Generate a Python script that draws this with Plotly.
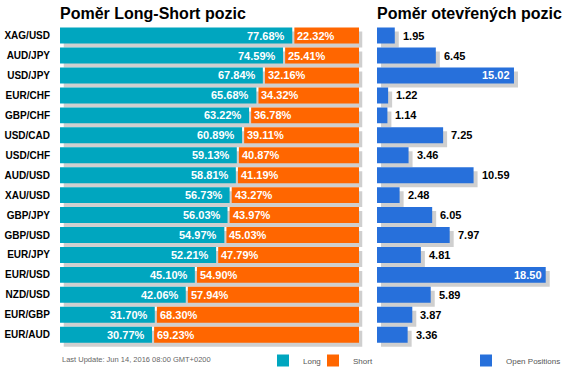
import plotly.graph_objects as go

pairs = ["XAG/USD", "AUD/JPY", "USD/JPY", "EUR/CHF", "GBP/CHF", "USD/CAD", "USD/CHF",
         "AUD/USD", "XAU/USD", "GBP/JPY", "GBP/USD", "EUR/JPY", "EUR/USD", "NZD/USD",
         "EUR/GBP", "EUR/AUD"]
long_pct = [77.68, 74.59, 67.84, 65.68, 63.22, 60.89, 59.13, 58.81, 56.73, 56.03,
            54.97, 52.21, 45.10, 42.06, 31.70, 30.77]
short_pct = [22.32, 25.41, 32.16, 34.32, 36.78, 39.11, 40.87, 41.19, 43.27, 43.97,
             45.03, 47.79, 54.90, 57.94, 68.30, 69.23]
open_pos = [1.95, 6.45, 15.02, 1.22, 1.14, 7.25, 3.46, 10.59, 2.48, 6.05, 7.97, 4.81,
            18.50, 5.89, 3.87, 3.36]

TITLE_LEFT = "Poměr Long-Short pozic"
TITLE_RIGHT = "Poměr otevřených pozic"
FOOTER = "Last Update: Jun 14, 2016 08:00 GMT+0200"

W, H = 568, 375
TEAL = "#00A6BF"
ORANGE = "#FF6600"
BLUE = "#2770DB"
SHADOW = "#CFCFCF"
FONT = "Liberation Sans, Arial, sans-serif"
GAP = 0.7  # visual gap between long and short segment (in % units)

def px_x(a, b):
    return [a / W, b / W]

def px_y(top, bottom):
    return [1 - bottom / H, 1 - top / H]

SH_X, SH_Y = 3.5, 4
row_top, row_bot = 25.7, 345.6
full = [100] * len(pairs)
short_base = [l + GAP for l in long_pct]
short_len = [s - GAP for s in short_pct]

fig = go.Figure()
# left shadow (x/y)
fig.add_trace(go.Bar(y=pairs, x=full, orientation="h", marker=dict(color=SHADOW, line_width=0),
                     xaxis="x", yaxis="y", showlegend=False, hoverinfo="skip"))
# left main (x2/y2)
fig.add_trace(go.Bar(y=pairs, x=long_pct, orientation="h", name="Long",
                     marker=dict(color=TEAL, line_width=0), xaxis="x2", yaxis="y2", legend="legend"))
fig.add_trace(go.Bar(y=pairs, x=short_len, base=short_base, orientation="h", name="Short",
                     marker=dict(color=ORANGE, line_width=0), xaxis="x2", yaxis="y2", legend="legend3"))
# right shadow (x3/y3)
fig.add_trace(go.Bar(y=pairs, x=open_pos, orientation="h", marker=dict(color=SHADOW, line_width=0),
                     xaxis="x3", yaxis="y3", showlegend=False, hoverinfo="skip"))
# right main (x4/y4)
fig.add_trace(go.Bar(y=pairs, x=open_pos, orientation="h", name="Open Positions",
                     marker=dict(color=BLUE, line_width=0), xaxis="x4", yaxis="y4", legend="legend2"))

ycat = dict(type="category", categoryorder="array", categoryarray=pairs[::-1],
            showgrid=False, zeroline=False, showline=False, ticks="")
xhid = dict(showgrid=False, zeroline=False, showline=False, showticklabels=False, ticks="", fixedrange=True)

LX0, LX1 = 60, 359
RX0 = 377
RSCALE = 9.12
RX1 = RX0 + 20 * RSCALE

LEG_Y = 1 - 361.5 / H
legfont = dict(family=FONT, size=8, color="#555")

def leg(icon_left_px):
    return dict(orientation="h", x=(icon_left_px - 14) / W, xanchor="left", y=LEG_Y, yanchor="middle",
                font=legfont, bgcolor="rgba(0,0,0,0)", itemwidth=30)

fig.update_layout(
    width=W, height=H,
    margin=dict(l=0, r=0, t=0, b=0),
    paper_bgcolor="white", plot_bgcolor="rgba(0,0,0,0)",
    barmode="overlay", bargap=0.2,
    font=dict(family=FONT, color="#000"),
    xaxis=dict(domain=px_x(LX0 + SH_X, LX1 + SH_X), range=[0, 100], anchor="y", **xhid),
    yaxis=dict(domain=px_y(row_top + SH_Y, row_bot + SH_Y), anchor="x", showticklabels=False, **ycat),
    xaxis2=dict(domain=px_x(LX0, LX1), range=[0, 100], anchor="y2", **xhid),
    yaxis2=dict(domain=px_y(row_top, row_bot), anchor="x2", showticklabels=True,
                tickfont=dict(family=FONT, size=10, color="#000", weight="bold"),
                ticklabelstandoff=9, **ycat),
    xaxis3=dict(domain=px_x(RX0 + SH_X + 0.5, RX1 + SH_X + 0.5), range=[0, 20], anchor="y3", **xhid),
    yaxis3=dict(domain=px_y(row_top + SH_Y, row_bot + SH_Y), anchor="x3", showticklabels=False, **ycat),
    xaxis4=dict(domain=px_x(RX0, RX1), range=[0, 20], anchor="y4", **xhid),
    yaxis4=dict(domain=px_y(row_top, row_bot), anchor="x4", showticklabels=False, **ycat),
    legend=leg(277),
    legend3=leg(327),
    legend2=leg(480),
    showlegend=True,
)

ann = []
vfont_w = dict(family=FONT, size=11, color="white", weight="bold")
vfont_b = dict(family=FONT, size=11, color="black", weight="bold")
for p, l, sb, s in zip(pairs, long_pct, short_base, short_pct):
    ann.append(dict(x=l, y=p, xref="x2", yref="y2", text=f"{l:.2f}%", showarrow=False,
                    xanchor="right", xshift=-7, font=vfont_w, borderpad=0, borderwidth=0))
    ann.append(dict(x=sb, y=p, xref="x2", yref="y2", text=f"{s:.2f}%", showarrow=False,
                    xanchor="left", xshift=3, font=vfont_w, borderpad=0, borderwidth=0))
for p, v in zip(pairs, open_pos):
    inside = v >= 12
    ann.append(dict(x=v, y=p, xref="x4", yref="y4", text=f"{v:.2f}", showarrow=False,
                    xanchor="right" if inside else "left", xshift=-4 if inside else 8,
                    font=vfont_w if inside else vfont_b, borderpad=0, borderwidth=0))

ann.append(dict(x=LX0 / W, y=1 - 13.5 / H, xref="paper", yref="paper", text=TITLE_LEFT,
                showarrow=False, xanchor="left", yanchor="middle", borderpad=0, borderwidth=0,
                font=dict(family=FONT, size=16, color="#000", weight="bold")))
ann.append(dict(x=RX0 / W, y=1 - 13.5 / H, xref="paper", yref="paper", text=TITLE_RIGHT,
                showarrow=False, xanchor="left", yanchor="middle", borderpad=0, borderwidth=0,
                font=dict(family=FONT, size=16, color="#000", weight="bold")))
ann.append(dict(x=62 / W, y=1 - 360.5 / H, xref="paper", yref="paper", text=FOOTER,
                showarrow=False, xanchor="left", yanchor="middle", borderpad=0, borderwidth=0,
                font=dict(family=FONT, size=7.5, color="#666")))
fig.update_layout(annotations=ann)

fig.write_html("out.html", config={"displayModeBar": False},
               post_script="document.body.style.margin='0px';document.body.style.overflow='hidden';")
